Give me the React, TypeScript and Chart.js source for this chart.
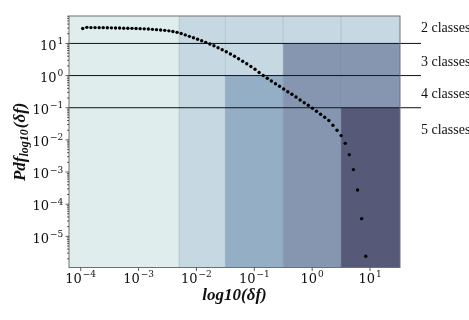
import React, { useEffect, useRef } from "react";
import { Chart, registerables } from "chart.js";

Chart.register(...registerables);

// log10 of δf at each bin centre
const logDeltaF = [
  -3.965, -3.894, -3.823, -3.752, -3.681, -3.611, -3.540, -3.469, -3.398, -3.327,
  -3.256, -3.185, -3.114, -3.044, -2.973, -2.902, -2.831, -2.760, -2.689, -2.618,
  -2.547, -2.476, -2.406, -2.335, -2.264, -2.193, -2.122, -2.051, -1.980, -1.909,
  -1.839, -1.768, -1.697, -1.626, -1.555, -1.484, -1.413, -1.342, -1.272, -1.201,
  -1.130, -1.059, -0.988, -0.917, -0.846, -0.775, -0.705, -0.634, -0.563, -0.492,
  -0.421, -0.350, -0.279, -0.208, -0.137, -0.067, 0.004, 0.075, 0.146, 0.217,
  0.288, 0.359, 0.430, 0.500, 0.571, 0.642, 0.713, 0.784, 0.855, 0.926,
];

// Pdf values
const pdfValues = [
  29.2, 31.6, 31.1, 31.1, 30.9, 30.9, 30.7, 30.5, 30.3, 30.1,
  29.8, 29.6, 29.4, 29.0, 28.8, 28.4, 28.0, 27.4, 26.8, 26.2,
  25.5, 24.6, 23.6, 22.1, 20.4, 18.4, 16.6, 15.0, 13.5, 12.1,
  10.8, 9.58, 8.43, 7.36, 6.38, 5.49, 4.69, 3.98, 3.35, 2.80,
  2.33, 1.92, 1.57, 1.25, 1.01, 0.826, 0.677, 0.558, 0.463, 0.382,
  0.315, 0.262, 0.216, 0.174, 0.1435, 0.1192, 0.0962, 0.0777, 0.0627, 0.0506,
  0.0402, 0.0286, 0.0200, 0.0136, 0.00778, 0.00347, 0.00119, 0.000277, 3.54e-5, 2.39e-6,
];

const xTickExps = [-4, -3, -2, -1, 0, 1];
const yTickExps = [1, 0, -1, -2, -3, -4, -5];

// class boundaries along x (log10 δf) and pdf levels separating the rows
const classBoundsLog = [-2.3, -1.5, -0.5, 0.5];
const classLevels = [10, 1, 0.1];
const classLabels = ["2 classes", "3 classes", "4 classes", "5 classes"];
const classLabelY = [30.1, 2.54, 0.264, 0.02];

const palette = ["#dfeeed", "#c6d9e2", "#94aec5", "#8796b0", "#565a78"];
// rows from top to bottom, colour index of each column
const rowColumns = [
  [0, 1, 1, 1, 1],
  [0, 1, 1, 3, 3],
  [0, 1, 2, 3, 3],
  [0, 1, 2, 3, 4],
];

const X_MIN = Math.pow(10, -4.202);
const X_MAX = Math.pow(10, 1.518);
const Y_MIN = Math.pow(10, -5.97);
const Y_MAX = Math.pow(10, 1.853);

const SERIF = "'Liberation Serif', 'DejaVu Serif', serif";
const TICKF = "'DejaVu Serif', serif";

function supText(e: number) {
  return e < 0 ? "\u2212" + Math.abs(e) : String(e);
}

const cellsPlugin = {
  id: "classCells",
  beforeDatasetsDraw(chart: any) {
    const { ctx, chartArea: a, scales } = chart;
    const x = scales.x, y = scales.y;
    const xs = [a.left, ...classBoundsLog.map((v) => x.getPixelForValue(Math.pow(10, v))), a.right];
    const ys = [a.top, ...classLevels.map((v) => y.getPixelForValue(v)), a.bottom];
    ctx.save();
    rowColumns.forEach((row, r) => {
      row.forEach((ci, c) => {
        ctx.fillStyle = palette[ci];
        ctx.fillRect(xs[c], ys[r], xs[c + 1] - xs[c], ys[r + 1] - ys[r]);
      });
    });
    ctx.strokeStyle = "rgba(70,90,110,0.2)";
    ctx.lineWidth = 1;
    for (let c = 1; c < xs.length - 1; c++) {
      ctx.beginPath();
      ctx.moveTo(xs[c], a.top);
      ctx.lineTo(xs[c], a.bottom);
      ctx.stroke();
    }
    ctx.strokeStyle = "#111";
    ctx.lineWidth = 1;
    classLevels.forEach((v) => {
      const py = y.getPixelForValue(v);
      ctx.beginPath();
      ctx.moveTo(a.left, py);
      ctx.lineTo(a.right + 21, py);
      ctx.stroke();
    });
    ctx.restore();
  },
  afterDraw(chart: any) {
    const { ctx, chartArea: a, scales } = chart;
    const x = scales.x, y = scales.y;
    ctx.save();
    // frame
    ctx.strokeStyle = "#707070";
    ctx.lineWidth = 1;
    ctx.strokeRect(a.left, a.top, a.right - a.left, a.bottom - a.top);

    ctx.strokeStyle = "#333";
    ctx.lineWidth = 0.8;
    ctx.fillStyle = "#111";
    const mainF = `13px ${TICKF}`;
    const supF = `9px ${TICKF}`;
    // x ticks + labels
    xTickExps.forEach((e) => {
      const px = x.getPixelForValue(Math.pow(10, e));
      ctx.beginPath();
      ctx.moveTo(px, a.bottom);
      ctx.lineTo(px, a.bottom + 3.5);
      ctx.stroke();
      ctx.font = mainF;
      const w1 = ctx.measureText("10").width;
      ctx.font = supF;
      const s = supText(e);
      const w2 = ctx.measureText(s).width;
      const start = px - (w1 + w2 + 1) / 2;
      ctx.textAlign = "left";
      ctx.textBaseline = "alphabetic";
      ctx.font = mainF;
      ctx.fillText("10", start, a.bottom + 15.8);
      ctx.font = supF;
      ctx.fillText(s, start + w1 + 1, a.bottom + 9);
    });
    // y minor ticks
    for (let e = -7; e <= 2; e++) {
      for (let m = 2; m <= 9; m++) {
        const v = m * Math.pow(10, e);
        if (v < Y_MIN || v > Y_MAX) continue;
        const py = y.getPixelForValue(v);
        ctx.beginPath();
        ctx.moveTo(a.left - 2, py);
        ctx.lineTo(a.left, py);
        ctx.stroke();
      }
    }
    // y major ticks + labels
    yTickExps.forEach((e) => {
      const py = y.getPixelForValue(Math.pow(10, e));
      ctx.beginPath();
      ctx.moveTo(a.left - 3.5, py);
      ctx.lineTo(a.left, py);
      ctx.stroke();
      ctx.font = mainF;
      const w1 = ctx.measureText("10").width;
      ctx.font = supF;
      const s = supText(e);
      const w2 = ctx.measureText(s).width;
      const start = a.left - 5.7 - w1 - w2 - 1;
      ctx.textAlign = "left";
      ctx.textBaseline = "alphabetic";
      ctx.font = mainF;
      ctx.fillText("10", start, py + 6.3);
      ctx.font = supF;
      ctx.fillText(s, start + w1 + 1, py + 0.5);
    });

    // class labels on the right
    ctx.fillStyle = "#111";
    ctx.font = `14px ${SERIF}`;
    ctx.textAlign = "left";
    ctx.textBaseline = "middle";
    classLabels.forEach((t, i) => {
      ctx.fillText(t, a.right + 21, y.getPixelForValue(classLabelY[i]));
    });

    // x axis title
    ctx.textBaseline = "alphabetic";
    ctx.textAlign = "center";
    ctx.font = `italic bold 17px ${SERIF}`;
    ctx.fillText("log10(\u03b4f)", (a.left + a.right) / 2, a.bottom + 32.5);

    // y axis title (rotated)
    const cy = (a.top + a.bottom) / 2;
    ctx.translate(25, cy);
    ctx.rotate(-Math.PI / 2);
    ctx.textAlign = "left";
    const big = `italic bold 17px ${SERIF}`;
    const small = `italic bold 12px ${SERIF}`;
    ctx.font = big;
    const wa = ctx.measureText("Pdf").width;
    const wc = ctx.measureText("(\u03b4f)").width;
    ctx.font = small;
    const wb = ctx.measureText("log10").width;
    let sx = -(wa + wb + wc + 1) / 2;
    ctx.font = big;
    ctx.fillText("Pdf", sx, 0);
    sx += wa;
    ctx.font = small;
    ctx.fillText("log10", sx, 3);
    sx += wb + 1;
    ctx.font = big;
    ctx.fillText("(\u03b4f)", sx, 0);
    ctx.restore();
  },
};

export default function App() {
  const ref = useRef<HTMLCanvasElement | null>(null);
  useEffect(() => {
    document.body.style.margin = "0";
    if (!ref.current) return;
    const chart = new Chart(ref.current, {
      type: "scatter",
      data: {
        datasets: [
          {
            data: logDeltaF.map((lx, i) => ({ x: Math.pow(10, lx), y: pdfValues[i] })),
            backgroundColor: "#000",
            borderColor: "#000",
            borderWidth: 0,
            pointRadius: 1.7,
            showLine: false,
          },
        ],
      },
      options: {
        animation: false,
        responsive: false,
        devicePixelRatio: 1,
        layout: { padding: { left: 69, right: 69, top: 16, bottom: 52.5 } },
        plugins: { legend: { display: false }, tooltip: { enabled: false } },
        scales: {
          x: { type: "logarithmic", min: X_MIN, max: X_MAX, display: false },
          y: { type: "logarithmic", min: Y_MIN, max: Y_MAX, display: false },
        },
      },
      plugins: [cellsPlugin],
    });
    return () => chart.destroy();
  }, []);
  return (
    <div style={{ width: 469, height: 320, background: "#fff" }}>
      <canvas ref={ref} width={469} height={320} style={{ width: 469, height: 320, display: "block" }} />
    </div>
  );
}
